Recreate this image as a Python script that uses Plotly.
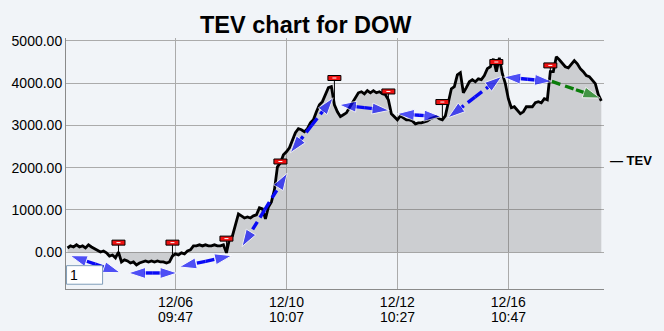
import plotly.graph_objects as go

# TEV series (one value per bar)
tev = [
    100, 150, 125, 175, 125, 150, 100, 175, 125, 80,
    55, 5, 30, -15, -90, -65, -135, 5, -230, -180,
    -205, -255, -230, -300, -255, -230, -205, -230, -205, -230,
    -205, -230, -230, -255, -230, -90, -40, -65, -15, -40,
    30, 55, 150, 150, 175, 150, 175, 150, 150, 175,
    150, 150, 175, -15, 315, 385, 625, 905, 860, 810,
    835, 810, 860, 885, 1050, 1025, 790, 1070, 1190, 1475,
    2020, 2115, 2305, 2375, 2470, 2660, 2825, 2920, 2895, 2850,
    2920, 3060, 3130, 3320, 3485, 3560, 3725, 3890, 3915, 3485,
    3320, 3205, 3250, 3295, 3415, 3535, 3630, 3770, 3795, 3745,
    3820, 3770, 3820, 3770, 3795, 3745, 3725, 3605, 3275, 3205,
    3130, 3225, 3180, 3130, 3130, 3105, 3035, 3060, 3060, 3085,
    3105, 3155, 3180, 3205, 3155, 3130, 3225, 3510, 3865, 3915,
    4195, 4245, 3770, 3890, 4030, 4080, 4030, 4100, 4080, 4175,
    4340, 4385, 4575, 4270, 4600, 4220, 3985, 3630, 3415, 3440,
    3345, 3275, 3320, 3440, 3440, 3440, 3535, 3560, 3535, 3630,
    3605, 4270, 4270, 4620, 4550, 4455, 4385, 4360, 4435, 4530,
    4455, 4340, 4270, 4175, 4150, 4080, 3985, 3725, 3580,
]
bars = list(range(len(tev)))

# x-axis ticks (bar index, date line, time line)
tick_bars = [36, 73, 110, 147]
tick_dates = ["12/06", "12/10", "12/12", "12/16"]
tick_times = ["09:47", "10:07", "10:27", "10:47"]

# y-axis ticks
y_ticks = [0, 1000, 2000, 3000, 4000, 5000]
y_labels = ["0.00", "1000.00", "2000.00", "3000.00", "4000.00", "5000.00"]

# signal flags: bar index and flag level
flag_bars = [17, 35, 53, 71, 89, 107, 125, 143, 161]
flag_levels = [227, 227, 322, 2145, 4119, 3801, 3551, 4497, 4417]

# swing arrows (bar0, value0, bar1, value1)
blue_arrows = [
    (0.9, -80, 17.6, -483),
    (20.3, -490, 36.6, -490),
    (37.3, -348, 54.8, -80),
    (58.2, 133, 73.3, 1870),
    (74.3, 2350, 88.6, 3652),
    (90.6, 3487, 107.3, 3352),
    (109.9, 3274, 124.6, 3203),
    (126.9, 3179, 144.8, 4157),
    (145.4, 4142, 161.5, 4038),
]
green_arrows = [
    (161.5, 4038, 177.6, 3645),
]

FONT = "Liberation Sans, Arial, sans-serif"
BG = "#f1f4f8"

fig = go.Figure()

# shaded area under the TEV line
fig.add_trace(go.Scatter(
    x=bars, y=tev, mode="lines", fill="tozeroy",
    fillcolor="rgba(86,86,86,0.24)", line=dict(width=0),
    hoverinfo="skip", showlegend=False,
))
# TEV line
fig.add_trace(go.Scatter(
    x=bars, y=tev, mode="lines", name="TEV",
    line=dict(color="black", width=2.8), showlegend=False,
))


def add_arrow(x0, y0, x1, y1, color, both):
    """Dashed arrow; heads at the end (and start when both=True)."""
    mx, my = (x0 + x1) / 2, (y0 + y1) / 2
    ends = [(x1, y1)] + ([(x0, y0)] if both else [])
    for ex, ey in ends:
        fig.add_trace(go.Scatter(
            x=[mx, ex], y=[my, ey], mode="lines+markers",
            line=dict(color=color, width=3.4, dash="9px,5px"),
            marker=dict(symbol="arrow", size=[0, 18], color=color,
                        angleref="previous"),
            hoverinfo="skip", showlegend=False,
        ))
    if not both:
        fig.add_trace(go.Scatter(
            x=[x0, mx], y=[y0, my], mode="lines",
            line=dict(color=color, width=3.4, dash="9px,5px"),
            hoverinfo="skip", showlegend=False,
        ))


for a in blue_arrows:
    add_arrow(*a, color="#0a0af5", both=True)
for a in green_arrows:
    add_arrow(*a, color="#0a7d0a", both=False)

shapes = []
for b, lvl in zip(flag_bars, flag_levels):
    # stick from the line up to the flag
    shapes.append(dict(type="line", xref="x", yref="y", x0=b, x1=b,
                       y0=tev[b], y1=lvl, line=dict(color="black", width=1),
                       layer="above"))
    # red flag with a white dash
    shapes.append(dict(type="rect", xref="x", yref="y",
                       xsizemode="pixel", ysizemode="pixel",
                       xanchor=b, yanchor=lvl, x0=-6.5, x1=6.5, y0=-2.5, y1=2.5,
                       fillcolor="#ee1111", line=dict(color="black", width=1),
                       layer="above"))
    shapes.append(dict(type="line", xref="x", yref="y",
                       xsizemode="pixel", ysizemode="pixel",
                       xanchor=b, yanchor=lvl, x0=-2, x1=2, y0=0, y1=0,
                       line=dict(color="white", width=1), layer="above"))

# small page box in the lower-left corner
shapes.append(dict(type="rect", xref="paper", yref="paper",
                   x0=0.001, x1=0.068, y0=0.019, y1=0.093,
                   fillcolor="white", line=dict(color="#7f9db9", width=1),
                   layer="above"))

annotations = [
    dict(text="1", xref="paper", yref="paper", x=0.0045, y=0.056,
         xanchor="left", yanchor="middle", showarrow=False,
         font=dict(family=FONT, size=14, color="black")),
    dict(text="<b>— TEV</b>", xref="paper", yref="paper", x=1.008, y=0.512,
         xanchor="left", yanchor="middle", showarrow=False,
         font=dict(family=FONT, size=13, color="black")),
]
# second line of the x tick labels (time of day)
for b, t in zip(tick_bars, tick_times):
    annotations.append(dict(text=t, xref="x", yref="paper", x=b, y=0,
                            xanchor="center", yanchor="middle", yshift=-28,
                            showarrow=False,
                            font=dict(family=FONT, size=14, color="black")))

fig.update_layout(
    width=664, height=331,
    margin=dict(l=66, r=60, t=38, b=42, autoexpand=False),
    paper_bgcolor=BG, plot_bgcolor=BG,
    title=dict(text="<b>TEV chart for DOW</b>", xref="paper", x=0.4457,
               xanchor="center", yref="container", y=0.926, yanchor="middle",
               font=dict(family=FONT, size=23.5, color="black")),
    font=dict(family=FONT, size=14, color="black"),
    shapes=shapes, annotations=annotations,
    showlegend=False,
)
fig.update_xaxes(
    range=[-0.5, 178.9], tickmode="array", tickvals=tick_bars,
    ticktext=tick_dates,
    showgrid=True, gridcolor="#ababab", gridwidth=1,
    showline=True, linecolor="#8a8a8a", linewidth=1,
    ticks="", zeroline=False, tickfont=dict(size=14), automargin=False,
)
fig.update_yaxes(
    range=[-869, 5065], tickmode="array", tickvals=y_ticks, ticktext=y_labels,
    showgrid=True, gridcolor="#ababab", gridwidth=1,
    showline=True, linecolor="#8a8a8a", linewidth=1,
    ticks="", zeroline=False, tickfont=dict(size=14), automargin=False,
)

fig.write_html("out.html")
